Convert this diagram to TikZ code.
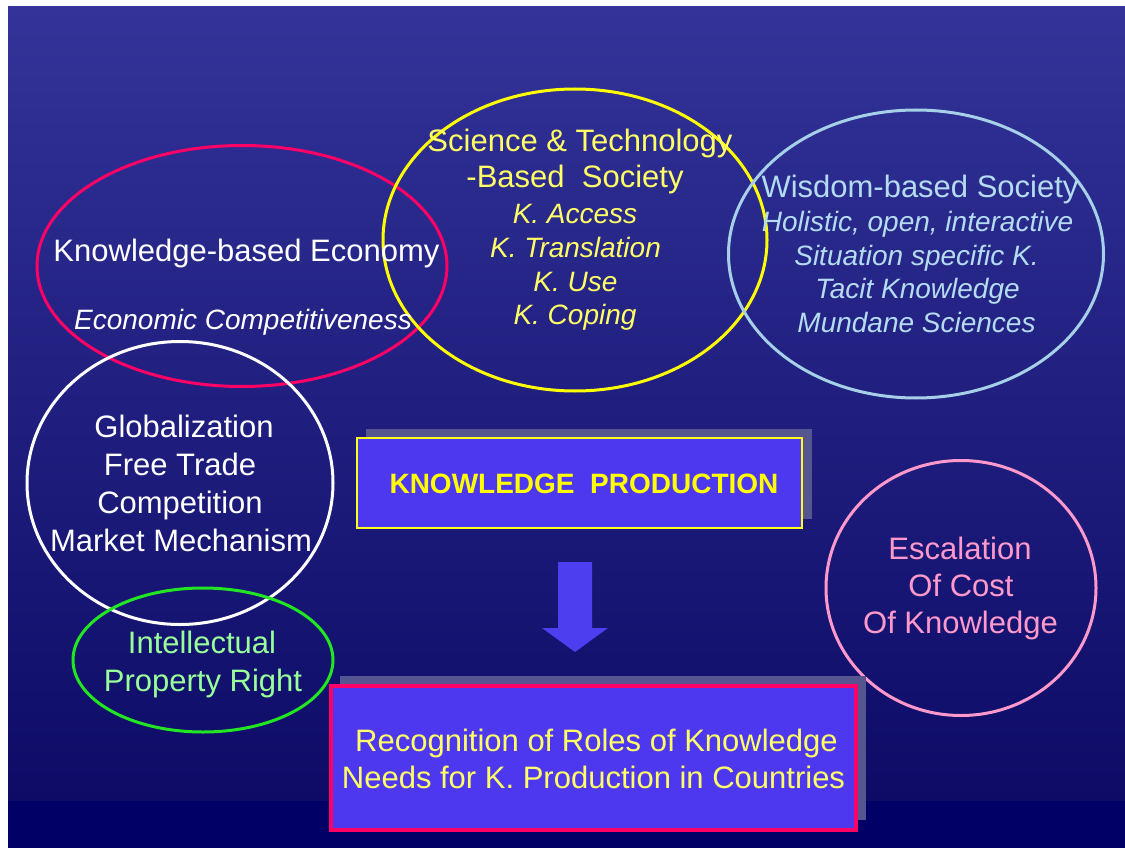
\documentclass[tikz,border=0pt]{standalone}
\usepackage{fontspec}
\setmainfont{Liberation Sans}
\usetikzlibrary{shapes.geometric}
\definecolor{bgtop}{HTML}{333399}
\definecolor{bgbot}{HTML}{0D0B66}
\definecolor{bgstrip}{HTML}{000066}
\definecolor{crimson}{HTML}{FF0066}
\definecolor{sciyel}{HTML}{FFFF00}
\definecolor{scitext}{HTML}{FFFF66}
\definecolor{wisblue}{HTML}{A6CFE8}
\definecolor{wistext}{HTML}{B4DCF0}
\definecolor{iprgreen}{HTML}{22E622}
\definecolor{iprtext}{HTML}{99FF99}
\definecolor{costpink}{HTML}{FF99CC}
\definecolor{boxblue}{HTML}{4D38F0}
\definecolor{shadowgray}{HTML}{555590}
\definecolor{arrowblue}{HTML}{4D3EF0}
\begin{document}
\begin{tikzpicture}[x=1pt,y=-1pt,
  ell/.style={ellipse, line width=3pt, inner sep=0pt},
  hd/.style={font=\fontsize{31}{37}\selectfont, anchor=base, inner sep=0pt},
  it/.style={font=\fontsize{28}{34}\selectfont\itshape, anchor=base, inner sep=0pt},
  shadowbox/.style={rectangle, fill=shadowgray, inner sep=0pt},
  mainbox/.style={rectangle, fill=boxblue, inner sep=0pt}]
\useasboundingbox (0,0) rectangle (1125,848);
\fill[white] (0,0) rectangle (1125,848);
\shade[top color=bgtop,bottom color=bgbot] (8,7) rectangle (1125,801);
\fill[bgstrip] (8,801) rectangle (1125,848);

% ellipses
\node[ell, draw=crimson, minimum width=410pt, minimum height=241pt] (econ) at (242,266) {};
\node[ell, draw=sciyel, minimum width=384pt, minimum height=302pt] (sci) at (575,240) {};
\node[ell, draw=wisblue, minimum width=375pt, minimum height=288pt] (wis) at (916,254) {};
\node[ell, draw=white, minimum width=306pt, minimum height=283pt] (glob) at (180,483) {};
\node[ell, draw=iprgreen, minimum width=260pt, minimum height=144pt] (ipr) at (203,660) {};
\node[ell, draw=costpink, minimum width=270pt, minimum height=255pt] (cost) at (961,588) {};

% boxes
\node[shadowbox, minimum width=446pt, minimum height=90pt] (kpshadow) at (589,474) {};
\node[mainbox, draw=sciyel!90!white, line width=2pt, minimum width=445pt, minimum height=90pt] (kp) at (579.5,483) {};
\node[shadowbox, minimum width=526pt, minimum height=144pt] (recshadow) at (603,748) {};
\node[mainbox, draw=crimson, line width=4pt, minimum width=525pt, minimum height=144pt] (rec) at (593.5,758) {};

% block arrow
\fill[arrowblue] (558,562) -- (592,562) -- (592,628) -- (608,628) -- (575,652) -- (542,628) -- (558,628) -- cycle;

% texts
\node[hd, text=white] (econ1) at (246.5,261) {Knowledge-based Economy};
\node[it, text=white] (econ2) at (243,329) {Economic Competitiveness};

\node[hd, text=scitext] (sci1) at (580,152) {Science \& Technology};
\node[hd, text=scitext] (sci2) at (575,188) {-Based\ \ Society};
\node[it, text=scitext] (sci3) at (575,223) {K. Access};
\node[it, text=scitext] (sci4) at (575.5,257) {K. Translation};
\node[it, text=scitext] (sci5) at (575.5,291) {K. Use};
\node[it, text=scitext] (sci6) at (575,324) {K. Coping};

\node[hd, text=wistext] (wis1) at (920,197) {Wisdom-based Society};
\node[it, text=wistext] (wis2) at (917.5,231) {Holistic, open, interactive};
\node[it, text=wistext] (wis3) at (916.5,265) {Situation specific K.};
\node[it, text=wistext] (wis4) at (917.5,298) {Tacit Knowledge};
\node[it, text=wistext] (wis5) at (916.5,332) {Mundane Sciences};

\node[hd, text=white] (glob1) at (184,437) {Globalization};
\node[hd, text=white] (glob2) at (180,475) {Free Trade};
\node[hd, text=white] (glob3) at (180,513) {Competition};
\node[hd, text=white] (glob4) at (181,551) {Market Mechanism};

\node[hd, text=iprtext] (ipr1) at (202,653) {Intellectual};
\node[hd, text=iprtext] (ipr2) at (203,691) {Property Right};

\node[hd, text=costpink] (cost1) at (960,559) {Escalation};
\node[hd, text=costpink] (cost2) at (961,596) {Of Cost};
\node[hd, text=costpink] (cost3) at (960.5,633) {Of Knowledge};

\node[font=\fontsize{28}{34}\selectfont\bfseries, anchor=base, inner sep=0pt, text=sciyel] (kptext) at (584,493) {KNOWLEDGE\ \ PRODUCTION};

\node[hd, text=scitext] (rec1) at (596.5,751) {Recognition of Roles of Knowledge};
\node[hd, text=scitext] (rec2) at (593.5,788) {Needs for K. Production in Countries};
\end{tikzpicture}
\end{document}
